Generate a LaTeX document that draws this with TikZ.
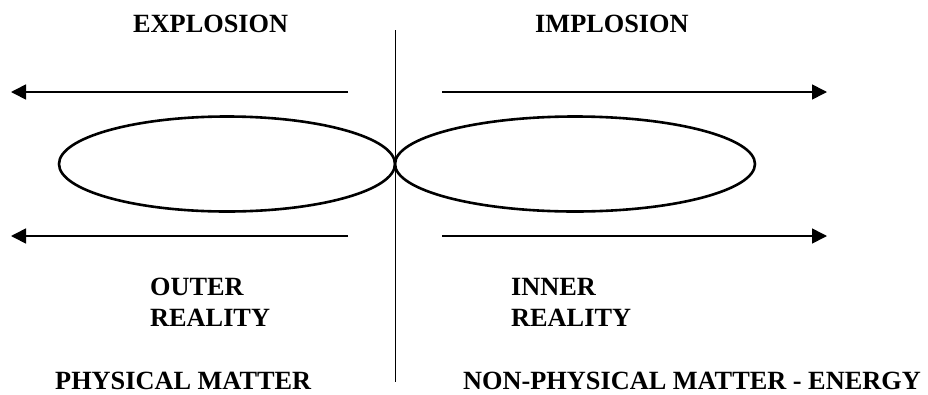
\documentclass[tikz,border=0pt]{standalone}
\usepackage{fontspec}
\setmainfont{Liberation Serif}
\usetikzlibrary{arrows.meta}

\tikzset{
  label/.style={font=\bfseries\fontsize{26.3}{31}\selectfont, inner sep=0pt, anchor=base west},
  flow/.style={line width=1.6pt, -{Triangle[length=15pt,width=15pt]}},
  lobe/.style={line width=2.6pt}
}

\begin{document}
\begin{tikzpicture}[x=1pt, y=-1pt]

  % Moldura
  \useasboundingbox (0,0) rectangle (928,394);

  \def\yTop{92}    % setas de cima
  \def\yBot{236}   % setas de baixo
  \def\yMid{164}   % centro das elipses

  % Linha vertical
  \coordinate (axisTop) at (395.5,30);
  \coordinate (axisBot) at (395.5,382);
  \draw[line width=1.8pt] (axisTop) -- (axisBot);

  % Elipses
  \draw[lobe] (227,\yMid) ellipse [x radius=168pt, y radius=47.5pt];
  \draw[lobe] (575,\yMid) ellipse [x radius=180pt, y radius=47.5pt];

  % Setas
  \coordinate (tlStart) at (348,\yTop);
  \coordinate (tlEnd)   at (11,\yTop);
  \coordinate (trStart) at (442,\yTop);
  \coordinate (trEnd)   at (827,\yTop);
  \coordinate (blStart) at (348,\yBot);
  \coordinate (blEnd)   at (11,\yBot);
  \coordinate (brStart) at (442,\yBot);
  \coordinate (brEnd)   at (827,\yBot);
  \draw[flow] (tlStart) -- (tlEnd);
  \draw[flow] (trStart) -- (trEnd);
  \draw[flow] (blStart) -- (blEnd);
  \draw[flow] (brStart) -- (brEnd);

  % Rótulos
  \node[label] (explosion) at (133,32) {EXPLOSION};
  \node[label] (implosion) at (535,32) {IMPLOSION};
  \node[label] (outer)     at (150,295.5) {OUTER};
  \node[label] (outerReal) at (150,326.5) {REALITY};
  \node[label] (inner)     at (511,295.5) {INNER};
  \node[label] (innerReal) at (511,326.5) {REALITY};
  \node[label] (physical)  at (55,389.5) {PHYSICAL MATTER};
  \node[label] (energy)    at (463,389.5) {NON-PHYSICAL MATTER - ENERGY};

\end{tikzpicture}
\end{document}
